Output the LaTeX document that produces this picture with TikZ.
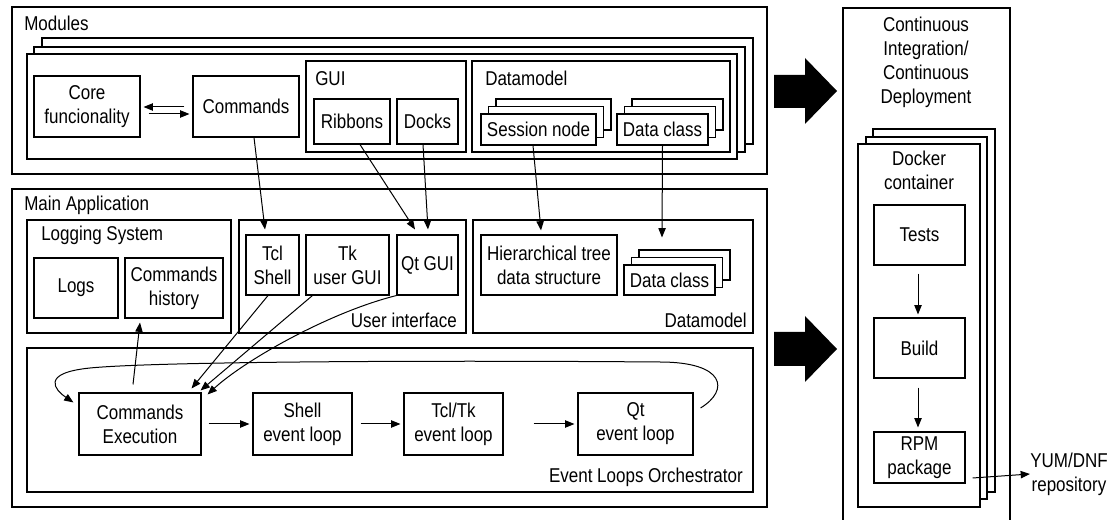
\documentclass[tikz,border=0pt]{standalone}
\usepackage{fontspec}
\setmainfont{Liberation Sans}[FakeStretch=0.85]
\usetikzlibrary{arrows.meta,calc}
\begin{document}
\begin{tikzpicture}[x=0.75pt,y=-0.75pt,
  every node/.style={font=\fontsize{15}{18}\selectfont},
  box/.style={draw, fill=white, line width=0.8pt, inner sep=0pt, align=center},
  R/.style n args={4}{minimum width={(#3-#1)*0.75pt}, minimum height={(#4-#2)*0.75pt},
     at={({(#1+#3)/2},{(#2+#4)/2})}},
  lbl/.style={inner sep=0pt},
  arr/.style={-{Triangle[length=7pt,width=5.5pt]}, line width=0.75pt},
  bigarrow/.style={fill=black}]
\useasboundingbox (0,0) rectangle (1111,520);

% ---------------- Modules
\node[box, R={12}{7}{767}{174}] (modules) {};
\node[lbl, anchor=base west] (moduleslbl) at (24,31) {Modules};
\node[box, R={42}{38}{753}{144}] (mstack3) {};
\node[box, R={34}{47}{745}{152}] (mstack2) {};
\node[box, R={27}{54}{737}{159}] (mstack1) {};
\node[box, R={34}{76}{140}{137}] (core) {Core\\funcionality};
\node[box, R={193}{76}{299}{137}] (cmds) {Commands};
\node[box, R={306}{61}{466}{152}] (gui) {};
\node[lbl, anchor=base west] (guilbl) at (315,86) {GUI};
\node[box, R={314}{99}{390}{144}] (ribbons) {Ribbons};
\node[box, R={397}{99}{458}{144}] (docks) {Docks};
\node[box, R={472}{61}{730}{152}] (dmmod) {};
\node[lbl, anchor=base west] (dmmodlbl) at (485,86) {Datamodel};
\node[box, R={496}{99}{611}{130}] (sn3) {};
\node[box, R={488.5}{106.5}{603.5}{137.5}] (sn2) {};
\node[box, R={481}{114}{596}{145}] (sn1) {Session node};
\node[box, R={632}{99}{723}{130}] (dca3) {};
\node[box, R={624.5}{106.5}{715.5}{137.5}] (dca2) {};
\node[box, R={617}{114}{708}{145}] (dca1) {Data class};

% ---------------- Main application
\node[box, R={12}{189}{767}{507}] (mainapp) {};
\node[lbl, anchor=base west] (mainlbl) at (24,211) {Main Application};
\node[box, R={27}{220}{231}{333}] (logging) {};
\node[lbl, anchor=base west] (logginglbl) at (41,241) {Logging System};
\node[box, R={34}{258}{118}{318}] (logs) {Logs};
\node[box, R={125}{258}{223}{318}] (cmdhist) {Commands\\history};
\node[box, R={239}{220}{466}{333}] (ui) {};
\node[lbl, anchor=base east] (uilbl) at (457,328) {User interface};
\node[box, R={246}{235}{299}{295}] (tcl) {Tcl\\Shell};
\node[box, R={306}{235}{389}{295}] (tk) {Tk\\user GUI};
\node[box, R={397}{235}{458}{295}] (qtgui) {Qt GUI};
\node[box, R={473}{220}{753}{333}] (dmmain) {};
\node[lbl, anchor=base east] (dmmainlbl) at (747,328) {Datamodel};
\node[box, R={481}{235}{617}{295}] (hier) {Hierarchical tree\\data structure};
\node[box, R={639}{250}{730}{280}] (dcb3) {};
\node[box, R={631.5}{257.5}{722.5}{287.5}] (dcb2) {};
\node[box, R={624}{265}{715}{295}] (dcb1) {Data class};
\node[box, R={27}{348}{753}{492}] (elo) {};
\node[lbl, anchor=base east] (elolbl) at (743,482) {Event Loops Orchestrator};
\node[box, R={79}{393}{201}{455}] (cmdexec) {Commands\\Execution};
\node[box, R={253}{393}{352}{455}] (shell) {Shell\\event loop};
\node[box, R={404}{393}{503}{455}] (tcltk) {Tcl/Tk\\event loop};
\node[box, R={578}{393}{693}{455}] (qtloop) {Qt\\event loop};

% ---------------- CI/CD
\draw[line width=0.8pt] (843,520) -- (843,8) -- (1010,8) -- (1010,520);
\node[lbl, align=center] (cilbl) at (926,62) {Continuous\\Integration/\\Continuous\\Deployment};
\node[box, R={873}{129}{995}{492}] (dk3) {};
\node[box, R={866}{137}{987}{499}] (dk2) {};
\node[box, R={858}{144}{980}{507}] (dk1) {};
\node[lbl, align=center] (dklbl) at (919,170) {Docker\\container};
\node[box, R={874}{205}{965}{265}] (tests) {Tests};
\node[box, R={874}{318}{965}{378}] (build) {Build};
\node[box, R={874}{432}{965}{483}] (rpm) {RPM\\package};
\node[lbl, align=center, anchor=west] (yum) at (1030,474) {YUM/DNF\\repository};

% ---------------- big arrows
\fill[bigarrow] (774,75) -- (805,75) -- (805,58) -- (837,91) -- (805,124) -- (805,108) -- (774,108) -- cycle;
\fill[bigarrow] (774,332) -- (805,332) -- (805,316) -- (837,349) -- (805,382) -- (805,366) -- (774,366) -- cycle;

% ---------------- connectors
\draw[arr] ($(cmds.west)+(-8,0.5)$) -- ($(core.east)+(3,0.5)$);
\draw[arr] ($(core.east)+(8,7.5)$) -- ($(cmds.west)+(-3,7.5)$);
\draw[arr] ($(cmds.south)+(8,0)$) -- ($(tcl.north)+(-7.5,-5)$);
\draw[arr] ($(ribbons.south)+(8,0)$) -- ($(qtgui.north)+(-12.5,-5)$);
\draw[arr] ($(docks.south)+(-4.5,0)$) -- ($(qtgui.north)+(0.5,-5)$);
\draw[arr] ($(sn1.south)+(-5.5,0)$) -- ($(hier.north)+(-8,-4)$);
\draw[arr] (dca1.south) -- ($(dcb3.north)+(-22.5,-12)$);
\draw[arr] ($(tcl.south)+(-4.5,0)$) -- ($(cmdexec.north east)+(-10,-4)$);
\draw[arr] ($(tk.south west)+(7,0)$) -- ($(cmdexec.north east)+(-1,-2)$);
\draw[arr] (qtgui.south west) .. controls (330,312) and (245,360) .. ($(cmdexec.north east)+(6,2)$);
\draw[arr] ($(cmdexec.north)+(-7,-8)$) -- ($(cmdhist.south)+(-34,4)$);
\draw[arr] ($(cmdexec.east)+(7,0)$) -- ($(shell.west)+(-3,0)$);
\draw[arr] ($(shell.east)+(8,0)$) -- ($(tcltk.west)+(-3,0)$);
\draw[arr] ($(tcltk.east)+(30,0)$) -- ($(qtloop.west)+(-3,0)$);
\draw[arr] ($(qtloop.east)+(7,-16)$) .. controls (730,390) and (725,362) .. (660,362)
  .. controls (400,360) and (150,362) .. (90,368)
  .. controls (40,373) and (55,390) .. ($(cmdexec.north west)+(-5,10)$);
\draw[arr] ($(tests.south)+(-1.5,8)$) -- ($(build.north)+(-1.5,-3)$);
\draw[arr] ($(build.south)+(-1.5,9)$) -- ($(rpm.north)+(-1.5,-4)$);
\draw[arr] ($(rpm.east)+(7,20.5)$) -- (yum.west);
\end{tikzpicture}
\end{document}
